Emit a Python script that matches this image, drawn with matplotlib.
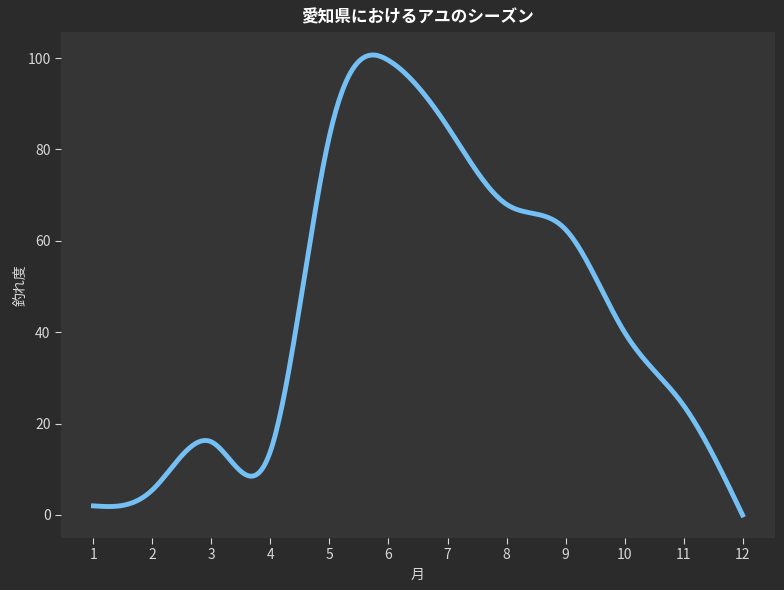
import numpy as np
import matplotlib
matplotlib.use('Agg')
import matplotlib.pyplot as plt

plt.rcParams['font.family'] = ['Noto Sans CJK JP', 'DejaVu Sans']

months = [1, 2, 3, 4, 5, 6, 7, 8, 9, 10, 11, 12]
score = [2, 5.5, 16, 14, 83, 99.5, 85, 68, 62.5, 40, 24, 0]


def spline(x, y, xs):
    # natural cubic spline
    x = np.asarray(x, float)
    y = np.asarray(y, float)
    n = len(x)
    h = np.diff(x)
    A = np.zeros((n, n))
    b = np.zeros(n)
    A[0, 0] = 1
    A[-1, -1] = 1
    for i in range(1, n - 1):
        A[i, i - 1] = h[i - 1]
        A[i, i] = 2 * (h[i - 1] + h[i])
        A[i, i + 1] = h[i]
        b[i] = 6 * ((y[i + 1] - y[i]) / h[i] - (y[i] - y[i - 1]) / h[i - 1])
    M = np.linalg.solve(A, b)
    out = []
    for t in xs:
        i = min(max(np.searchsorted(x, t) - 1, 0), n - 2)
        a = x[i + 1] - t
        c = t - x[i]
        v = (M[i] * a**3 + M[i + 1] * c**3) / (6 * h[i]) \
            + (y[i] / h[i] - M[i] * h[i] / 6) * a \
            + (y[i + 1] / h[i] - M[i + 1] * h[i] / 6) * c
        out.append(v)
    return np.array(out)


xs = np.linspace(min(months), max(months), 400)
ys = spline(months, score, xs)

fig = plt.figure(figsize=(7.84, 5.9), dpi=100, facecolor='#2b2b2b')
ax = fig.add_axes([61 / 784, 52 / 590, 714 / 784, 506 / 590])
ax.set_facecolor('#353535')
ax.plot(xs, ys, color='#74c0f4', linewidth=3.5)

for s in ax.spines.values():
    s.set_visible(False)
ax.set_xticks(months)
ax.tick_params(colors='#d8d8d8', labelsize=10, length=4)
ax.set_xlabel('月', color='#d8d8d8', fontsize=10)
ax.set_ylabel('釣れ度', color='#d8d8d8', fontsize=10, labelpad=0)
ax.set_title('愛知県におけるアユのシーズン', color='white', fontsize=12, fontweight='bold', pad=7)

fig.savefig('out.png', dpi=100, facecolor=fig.get_facecolor())
